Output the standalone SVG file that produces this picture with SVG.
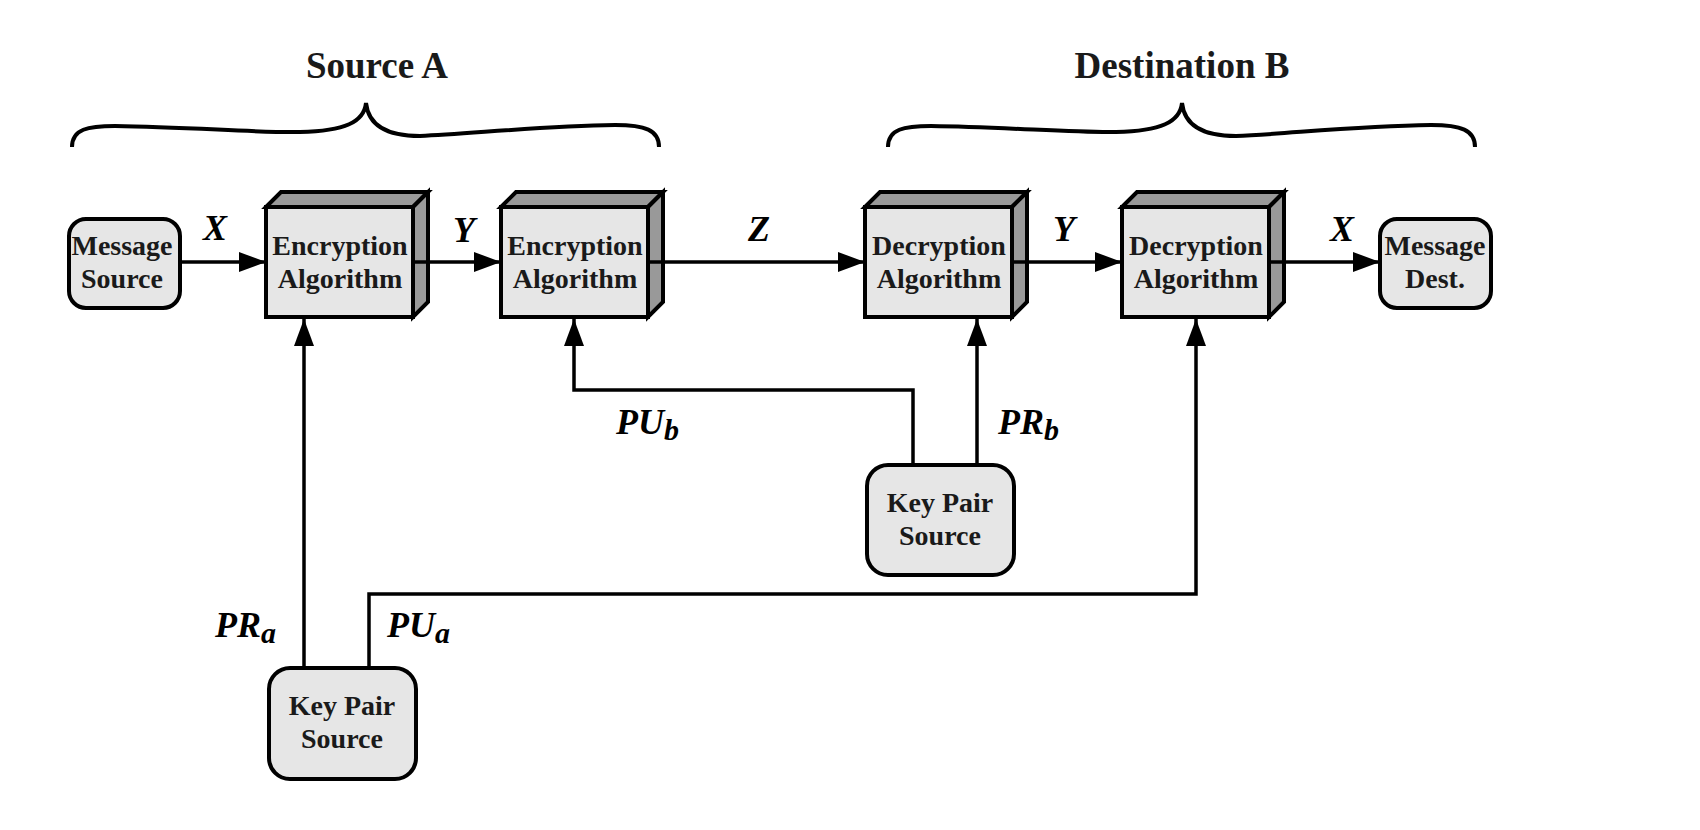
<svg xmlns="http://www.w3.org/2000/svg" width="1700" height="830" viewBox="0 0 1700 830">
<defs>
<style>
.front{fill:#e6e6e6;stroke:#000;stroke-width:4}
.shade{fill:#999;stroke:#000;stroke-width:4;stroke-linejoin:miter}
.rnd{fill:#e6e6e6;stroke:#000;stroke-width:4}
.t{font-family:"Liberation Serif","Times New Roman",serif;font-weight:bold;font-size:28px;fill:#1a1a1a;text-anchor:middle}
.title{font-family:"Liberation Serif","Times New Roman",serif;font-weight:bold;font-size:37px;fill:#1a1a1a;text-anchor:middle}
.lab{font-family:"Liberation Serif","Times New Roman",serif;font-weight:bold;font-style:italic;font-size:36px;fill:#000}
.sub{font-size:30px}
.c{fill:none;stroke:#000;stroke-width:3.5}
.brace{fill:none;stroke:#000;stroke-width:4}
</style>
<marker id="ah" markerUnits="userSpaceOnUse" markerWidth="28" markerHeight="22" refX="27" refY="10" orient="auto">
<path d="M0,0 L27,10 L0,20 z" fill="#000"/>
</marker>
</defs>
<rect width="1700" height="830" fill="#fff"/>

<g id="titleA">
<text class="title" x="377" y="78">Source A</text>
<path class="brace" d="M72,147 C72,129 88,126 115,126 C190,127 260,133 300,132 C345,131 364,122 366,103 C368,122 382,136 420,136 C470,134 540,126 615,125 C645,125 659,130 659,147"/>
</g>
<g id="titleB">
<text class="title" x="1182" y="78">Destination B</text>
<path class="brace" transform="translate(816,0)" d="M72,147 C72,129 88,126 115,126 C190,127 260,133 300,132 C345,131 364,122 366,103 C368,122 382,136 420,136 C470,134 540,126 615,125 C645,125 659,130 659,147"/>
</g>

<g id="msgSource">
<rect class="rnd" x="69" y="219" width="111" height="89" rx="17"/>
<text class="t" x="122" y="255">Message</text>
<text class="t" x="122" y="288">Source</text>
</g>

<g id="enc1">
<path class="shade" d="M266,207 L281,192 L428,192 L413,207 Z"/>
<path class="shade" d="M413,207 L428,192 L428,302 L413,317 Z"/>
<rect class="front" x="266" y="207" width="147" height="110"/>
<text class="t" x="340" y="255">Encryption</text>
<text class="t" x="340" y="288">Algorithm</text>
</g>

<g id="enc2">
<path class="shade" d="M501,207 L516,192 L663,192 L648,207 Z"/>
<path class="shade" d="M648,207 L663,192 L663,302 L648,317 Z"/>
<rect class="front" x="501" y="207" width="147" height="110"/>
<text class="t" x="575" y="255">Encryption</text>
<text class="t" x="575" y="288">Algorithm</text>
</g>

<g id="dec1">
<path class="shade" d="M865,207 L880,192 L1027,192 L1012,207 Z"/>
<path class="shade" d="M1012,207 L1027,192 L1027,302 L1012,317 Z"/>
<rect class="front" x="865" y="207" width="147" height="110"/>
<text class="t" x="939" y="255">Decryption</text>
<text class="t" x="939" y="288">Algorithm</text>
</g>

<g id="dec2">
<path class="shade" d="M1122,207 L1137,192 L1284,192 L1269,207 Z"/>
<path class="shade" d="M1269,207 L1284,192 L1284,302 L1269,317 Z"/>
<rect class="front" x="1122" y="207" width="147" height="110"/>
<text class="t" x="1196" y="255">Decryption</text>
<text class="t" x="1196" y="288">Algorithm</text>
</g>

<g id="msgDest">
<rect class="rnd" x="1380" y="219" width="111" height="89" rx="17"/>
<text class="t" x="1435" y="255">Message</text>
<text class="t" x="1435" y="288">Dest.</text>
</g>

<g id="keyA">
<rect class="rnd" x="269" y="668" width="147" height="111" rx="21"/>
<text class="t" x="342" y="715">Key Pair</text>
<text class="t" x="342" y="748">Source</text>
</g>

<g id="keyB">
<rect class="rnd" x="867" y="465" width="147" height="110" rx="21"/>
<text class="t" x="940" y="512">Key Pair</text>
<text class="t" x="940" y="545">Source</text>
</g>

<g id="connectors">
<line class="c" x1="180" y1="262" x2="266" y2="262" marker-end="url(#ah)"/>
<line class="c" x1="413" y1="262" x2="501" y2="262" marker-end="url(#ah)"/>
<line class="c" x1="648" y1="262" x2="865" y2="262" marker-end="url(#ah)"/>
<line class="c" x1="1012" y1="262" x2="1122" y2="262" marker-end="url(#ah)"/>
<line class="c" x1="1269" y1="262" x2="1380" y2="262" marker-end="url(#ah)"/>
<polyline class="c" points="304,668 304,319" marker-end="url(#ah)"/>
<polyline class="c" points="369,668 369,594 1196,594 1196,319" marker-end="url(#ah)"/>
<polyline class="c" points="913,465 913,390 574,390 574,319" marker-end="url(#ah)"/>
<polyline class="c" points="977,465 977,319" marker-end="url(#ah)"/>
</g>

<g id="labels">
<text class="lab" x="215" y="240" text-anchor="middle">X</text>
<text class="lab" x="464" y="242" text-anchor="middle">Y</text>
<text class="lab" x="759" y="241" text-anchor="middle">Z</text>
<text class="lab" x="1064" y="241" text-anchor="middle">Y</text>
<text class="lab" x="1342" y="241" text-anchor="middle">X</text>
<text class="lab" x="215" y="637">PR<tspan class="sub" dy="6">a</tspan></text>
<text class="lab" x="387" y="637">PU<tspan class="sub" dy="6">a</tspan></text>
<text class="lab" x="616" y="434">PU<tspan class="sub" dy="6">b</tspan></text>
<text class="lab" x="998" y="434">PR<tspan class="sub" dy="6">b</tspan></text>
</g>
</svg>
